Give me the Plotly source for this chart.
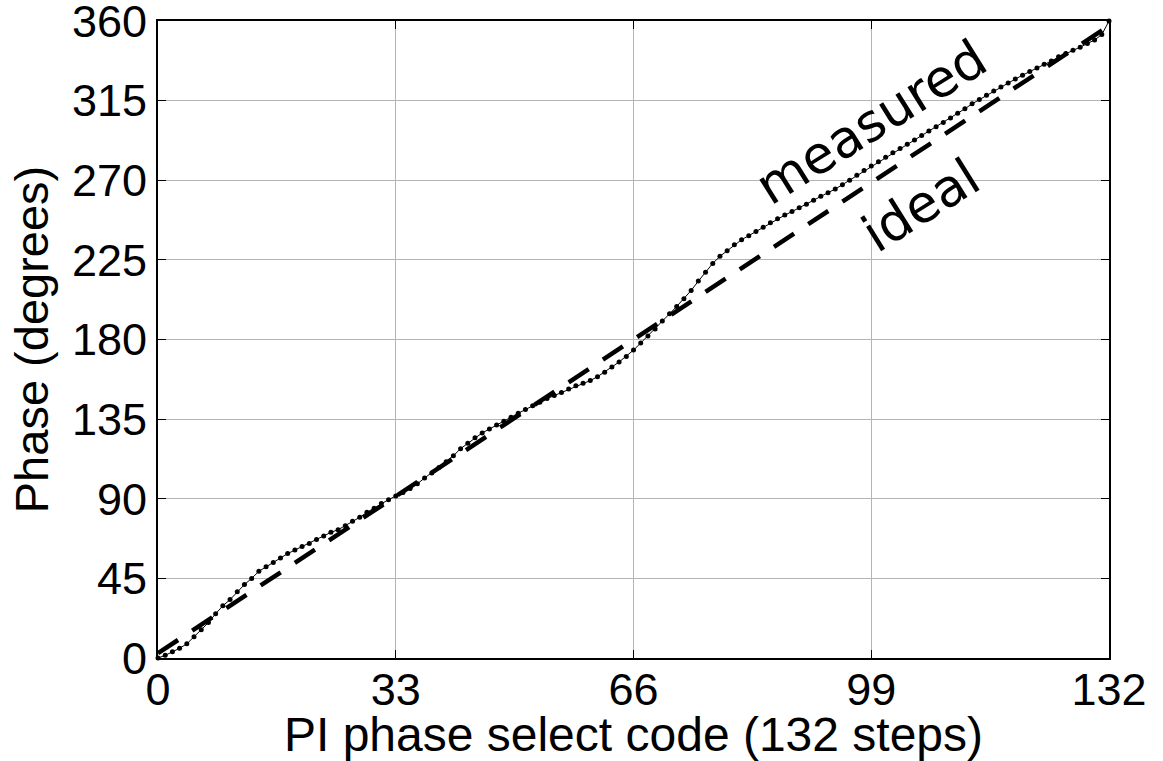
import plotly.graph_objects as go

# ---- data ----
codes = list(range(0, 133))
measured = [
    0, 1.5, 3.5, 5.5, 8, 12, 16, 20, 25, 29.5,
    33, 37.5, 41.5, 45, 49, 51.5, 54, 56.5, 59, 61,
    63, 64.7, 67, 69, 71, 72.5, 74.7, 77.3, 79.5, 82.3,
    84.7, 87.3, 89.5, 91.5, 93.5, 95.8, 98.5, 101.7, 104.5, 107.7,
    110.9, 114.3, 118.3, 121.3, 124.5, 127.2, 129.4, 131.7, 133.8, 136,
    138.3, 140.4, 142.5, 144.5, 146.6, 148.3, 150, 152, 153.8, 155.3,
    156.8, 159, 161.5, 164.5, 167.3, 170.4, 174, 178, 182, 186,
    190.5, 194.5, 198.7, 203, 207.7, 213, 218, 223, 227, 230.2,
    233.6, 236.4, 238.7, 241, 243.5, 246, 248.2, 250.3, 252.3, 254.5,
    256.5, 258.7, 261, 263, 265, 267.5, 270, 272.8, 275.5, 278,
    280.5, 283, 285.5, 288, 290.3, 292.8, 295.3, 297.8, 300.2, 302.7,
    305.2, 307.8, 310.4, 313.2, 315.6, 318, 320.4, 322.7, 325, 327.2,
    329.4, 331.4, 333.4, 335.6, 337.4, 339.8, 341.7, 343.4, 345.2, 347.3,
    349.3, 352.3, 360,
]
ideal_x = [0, 132]
ideal_y = [2.7, 357.3]

x_ticks = [0, 33, 66, 99, 132]
y_ticks = [0, 45, 90, 135, 180, 225, 270, 315, 360]

x_title = "PI phase select code (132 steps)"
y_title = "Phase (degrees)"
labels = [("measured", 99.0, 303), ("ideal", 105.9, 256)]

fig = go.Figure()
fig.add_trace(go.Scatter(
    x=ideal_x, y=ideal_y, mode="lines",
    line=dict(color="black", width=4.5, dash="24px,17px"),
    showlegend=False, hoverinfo="skip",
))
fig.add_trace(go.Scatter(
    x=codes, y=measured, mode="lines+markers",
    line=dict(color="black", width=1),
    marker=dict(color="black", size=5),
    showlegend=False, cliponaxis=False,
))

for txt, ax_, ay_ in labels:
    fig.add_annotation(
        x=ax_, y=ay_, xref="x", yref="y", text=txt, showarrow=False,
        textangle=-32, font=dict(family="DejaVu Sans", size=52, color="black"),
    )

axis_common = dict(
    showgrid=True, gridcolor="#b4b4b4", gridwidth=1,
    showline=True, linecolor="black", linewidth=2, mirror="ticks",
    ticks="inside", ticklen=8, tickcolor="black", tickwidth=1,
    zeroline=False, ticklabeloverflow="allow",
    tickfont=dict(family="Liberation Sans, Arial", size=45, color="black"),
)

fig.update_xaxes(
    range=[0, 132], tickmode="array", tickvals=x_ticks,
    ticktext=[str(v) for v in x_ticks], ticklabelstandoff=-9,
    title=dict(text=x_title, font=dict(family="Liberation Sans, Arial", size=48, color="black"), standoff=4),
    **axis_common,
)
fig.update_yaxes(
    range=[0, 360], tickmode="array", tickvals=y_ticks,
    ticktext=[str(v) for v in y_ticks],
    title=dict(text=y_title, font=dict(family="Liberation Sans, Arial", size=47, color="black"), standoff=8),
    **axis_common,
)

fig.update_layout(
    width=1163, height=761,
    margin=dict(l=158, r=54, t=21, b=103, autoexpand=False),
    paper_bgcolor="white", plot_bgcolor="white",
)

fig.write_html("out.html")
